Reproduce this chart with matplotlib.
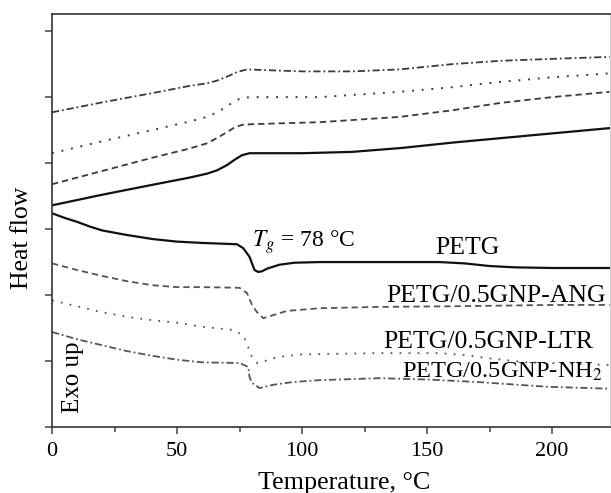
import numpy as np
import matplotlib.pyplot as plt

plt.rcParams['font.family'] = ['Liberation Serif', 'DejaVu Serif']
plt.rcParams['mathtext.fontset'] = 'stix'

# heating scans (upper curves), temperature in C, heat flow in arb. units
T_petg_h = [0, 20, 40, 55, 62, 66, 70, 73, 76, 79, 85, 100, 120, 140, 160, 180, 200, 223]
hf_petg_h = [3.36, 3.52, 3.67, 3.78, 3.84, 3.89, 3.97, 4.05, 4.12, 4.15, 4.15, 4.15, 4.17, 4.23,
             4.31, 4.38, 4.45, 4.53]

T_ang_h = [0, 20, 40, 55, 62, 66, 70, 73, 76, 80, 107, 139, 160, 179, 200, 223]
hf_ang_h = [3.68, 3.88, 4.08, 4.22, 4.30, 4.38, 4.47, 4.54, 4.58, 4.59, 4.62, 4.70, 4.80, 4.91,
            5.00, 5.08]

T_ltr_h = [0, 20, 40, 55, 62, 66, 70, 73, 76, 80, 107, 139, 160, 179, 200, 223]
hf_ltr_h = [4.15, 4.33, 4.50, 4.63, 4.70, 4.77, 4.86, 4.94, 4.99, 5.00, 5.00, 5.08, 5.15, 5.23,
            5.30, 5.36]

T_nh2_h = [0, 20, 40, 55, 62, 66, 70, 74, 78, 85, 100, 120, 139, 160, 179, 200, 223]
hf_nh2_h = [4.77, 4.92, 5.06, 5.17, 5.21, 5.25, 5.31, 5.38, 5.42, 5.41, 5.39, 5.39, 5.42, 5.50,
            5.55, 5.58, 5.61]

# second scans with the Tg step (lower curves)
T_petg_c = [0, 5, 10, 15, 20, 30, 40, 50, 60, 74, 76.5, 79, 81, 82.5, 84, 86, 91, 97, 107, 130,
            155, 165, 175, 185, 200, 223]
hf_petg_c = [3.24, 3.17, 3.11, 3.04, 2.98, 2.91, 2.85, 2.81, 2.79, 2.77, 2.71, 2.58, 2.38, 2.35,
             2.36, 2.40, 2.46, 2.49, 2.50, 2.50, 2.50, 2.48, 2.44, 2.42, 2.41, 2.41]

T_ang_c = [0, 10, 20, 30, 40, 50, 60, 75, 78, 80, 82, 84.5, 88, 94, 107, 130, 160, 200, 223]
hf_ang_c = [2.48, 2.38, 2.29, 2.21, 2.15, 2.12, 2.12, 2.11, 2.03, 1.85, 1.74, 1.65, 1.69, 1.76,
            1.80, 1.82, 1.83, 1.85, 1.85]

T_ltr_c = [0, 10, 20, 30, 40, 50, 60, 72.5, 76.5, 78.5, 79, 82, 86, 90, 100, 130, 155, 165, 175,
           190, 223]
hf_ltr_c = [1.92, 1.83, 1.74, 1.67, 1.62, 1.58, 1.52, 1.47, 1.39, 1.21, 1.12, 0.97, 1.01, 1.06,
            1.10, 1.12, 1.12, 1.09, 1.04, 0.98, 0.94]

T_nh2_c = [0, 10, 20, 30, 40, 50, 60, 75, 78.5, 79, 80, 83, 88.5, 96, 107, 131, 150, 171, 198, 223]
hf_nh2_c = [1.44, 1.33, 1.24, 1.15, 1.08, 1.02, 0.98, 0.97, 0.91, 0.76, 0.67, 0.59, 0.64, 0.68,
            0.71, 0.74, 0.72, 0.68, 0.61, 0.58]

labels = ['PETG', 'PETG/0.5GNP-ANG', 'PETG/0.5GNP-LTR', 'PETG/0.5GNP-NH$_2$']

fig = plt.figure(figsize=(6.11, 4.93), dpi=100)
ax = fig.add_axes([52/611, 66/493, 558/611, 413/493])

ls_dash = (0, (3.5, 2.2))
ls_dot = (0, (1, 4))
ls_dashdot = (0, (4, 1.6, 1, 1.6))

# upper curves
ax.plot(T_petg_h, hf_petg_h, color='#111111', lw=1.6)
ax.plot(T_ang_h, hf_ang_h, color='#3a3a3a', lw=1.3, linestyle=ls_dash)
ax.plot(T_ltr_h, hf_ltr_h, color='#3a3a3a', lw=1.4, linestyle=ls_dot)
ax.plot(T_nh2_h, hf_nh2_h, color='#3a3a3a', lw=1.3, linestyle=ls_dashdot)

# lower curves
ax.plot(T_petg_c, hf_petg_c, color='#111111', lw=1.6)
ax.plot(T_ang_c, hf_ang_c, color='#555555', lw=1.3, linestyle=ls_dash)
ax.plot(T_ltr_c, hf_ltr_c, color='#555555', lw=1.3, linestyle=ls_dot)
ax.plot(T_nh2_c, hf_nh2_c, color='#555555', lw=1.3, linestyle=ls_dashdot)

ax.set_xlim(0, 223.2)
ax.set_ylim(0, 6.26)
ax.set_xticks([0, 50, 100, 150, 200])
ax.set_xticks([25, 75, 125, 175], minor=True)
ax.set_yticks(range(7))
ax.set_yticklabels([])
ax.tick_params(axis='x', which='major', direction='out', length=5, width=1.1,
               color='#444444', labelsize=16, pad=6)
ax.tick_params(axis='x', which='minor', direction='out', length=3.5, width=1.1, color='#444444')
ax.tick_params(axis='y', direction='out', length=5, width=1.1, color='#444444')
for side in ['left', 'bottom', 'top']:
    ax.spines[side].set_color('#333333')
    ax.spines[side].set_linewidth(1.2)
ax.spines['right'].set_color('#cccccc')

# annotations
ax.text(80, 2.73, r'$T_g$ = 78 °C', fontsize=17, va='baseline')
ax.text(153.2, 2.62, labels[0], fontsize=18.5, va='baseline')
ax.text(133.6, 1.89, labels[1], fontsize=18.5, va='baseline')
ax.text(132.4, 1.20, labels[2], fontsize=18.5, va='baseline')
ax.text(139.8, 0.74, labels[3], fontsize=17.6, va='baseline', clip_on=False)
ax.text(8.6, 0.76, 'Exo up', fontsize=18, rotation=90, ha='center', va='center')

fig.text(22/611, 1 - 238/493, 'Heat flow', fontsize=18.5, rotation=90, ha='center', va='center')
fig.text(344/611, 4/493, 'Temperature, °C', fontsize=18.8, ha='center', va='baseline')

fig.savefig('out.png', dpi=100)
